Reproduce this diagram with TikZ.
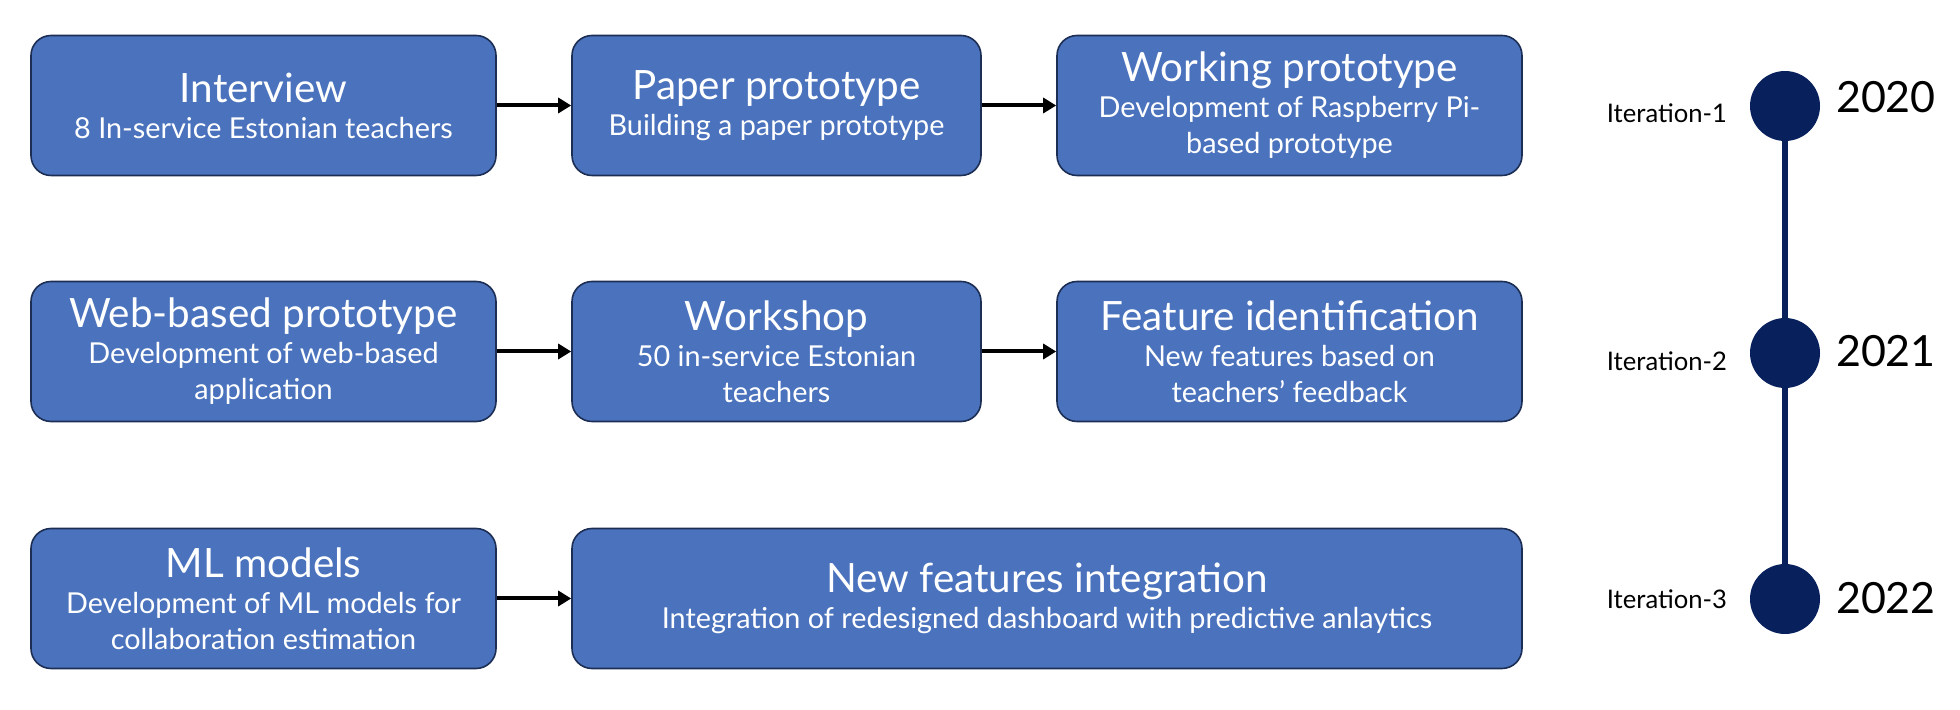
\documentclass[tikz,border=0pt]{standalone}
\usepackage{fontspec}
\setmainfont{Lato}
\usetikzlibrary{arrows.meta}
\definecolor{boxblue}{RGB}{74,114,189}
\definecolor{boxedge}{RGB}{28,46,84}
\definecolor{navy}{RGB}{8,32,92}
\newcommand{\ttlf}{\fontsize{20.2}{18}\selectfont}
\newcommand{\sbtf}{\fontsize{14.4}{18}\selectfont}
\begin{document}
\begin{tikzpicture}[x=0.5pt,y=-0.5pt,
  stagebox/.style={draw=boxedge, line width=0.8pt, fill=boxblue, rounded corners=10pt,
    text=white, align=center, minimum height=70pt, inner sep=0pt, font=\sbtf},
  flow/.style={-{Triangle[length=6.5pt,width=7.5pt]}, line width=2pt, draw=black},
  dot/.style={circle, fill=navy, minimum size=35pt, inner sep=0pt},
  itlabel/.style={anchor=base east, font=\fontsize{12.8}{15}\selectfont},
  yearlabel/.style={anchor=base west, font=\fontsize{21.5}{25}\selectfont}]
\useasboundingbox (0,0) rectangle (1960,710);
% row 1
\node[stagebox, minimum width=232.5pt] (n11) at (263.5,105.5)
  {\ttlf Interview\\\sbtf 8 In-service Estonian teachers};
\node[stagebox, minimum width=204.5pt] (n12) at (776.5,105.5)
  {\ttlf Paper prototype\\\sbtf Building a paper prototype};
\node[stagebox, minimum width=232.5pt] (n13) at (1289.5,105.5)
  {\ttlf Working prototype\\\sbtf Development of Raspberry Pi-\\\sbtf based prototype};
% row 2
\node[stagebox, minimum width=232.5pt] (n21) at (263.5,351.5)
  {\ttlf Web-based prototype\\\sbtf Development of web-based\\\sbtf application};
\node[stagebox, minimum width=204.5pt] (n22) at (776.5,351.5)
  {\ttlf Workshop\\\sbtf 50 in-service Estonian\\\sbtf teachers};
\node[stagebox, minimum width=232.5pt] (n23) at (1289.5,351.5)
  {\ttlf Feature identification\\\sbtf New features based on\\\sbtf teachers’ feedback};
% row 3
\node[stagebox, minimum width=232.5pt] (n31) at (263.5,598.5)
  {\ttlf ML models\\\sbtf Development of ML models for\\\sbtf collaboration estimation};
\node[stagebox, minimum width=475pt] (n32) at (1047,598.5)
  {\ttlf New features integration\\\sbtf Integration of redesigned dashboard with predictive anlaytics};
% arrows
\draw[flow] (n11) -- (n12);
\draw[flow] (n12) -- (n13);
\draw[flow] (n21) -- (n22);
\draw[flow] (n22) -- (n23);
\draw[flow] (n31) -- (n32);
% timeline
\node[dot] (c1) at (1785,106) {};
\node[dot] (c2) at (1785,353) {};
\node[dot] (c3) at (1785,599) {};
\draw[navy, line width=3pt] (c1) -- (c2);
\draw[navy, line width=3pt] (c2) -- (c3);
\node[itlabel] (i1) at (1734,123) {Iteration-1};
\node[itlabel] (i2) at (1734,371) {Iteration-2};
\node[itlabel] (i3) at (1734,609) {Iteration-3};
\node[yearlabel] (y1) at (1829,113) {2020};
\node[yearlabel] (y2) at (1829,367) {2021};
\node[yearlabel] (y3) at (1829,614) {2022};
\end{tikzpicture}
\end{document}
